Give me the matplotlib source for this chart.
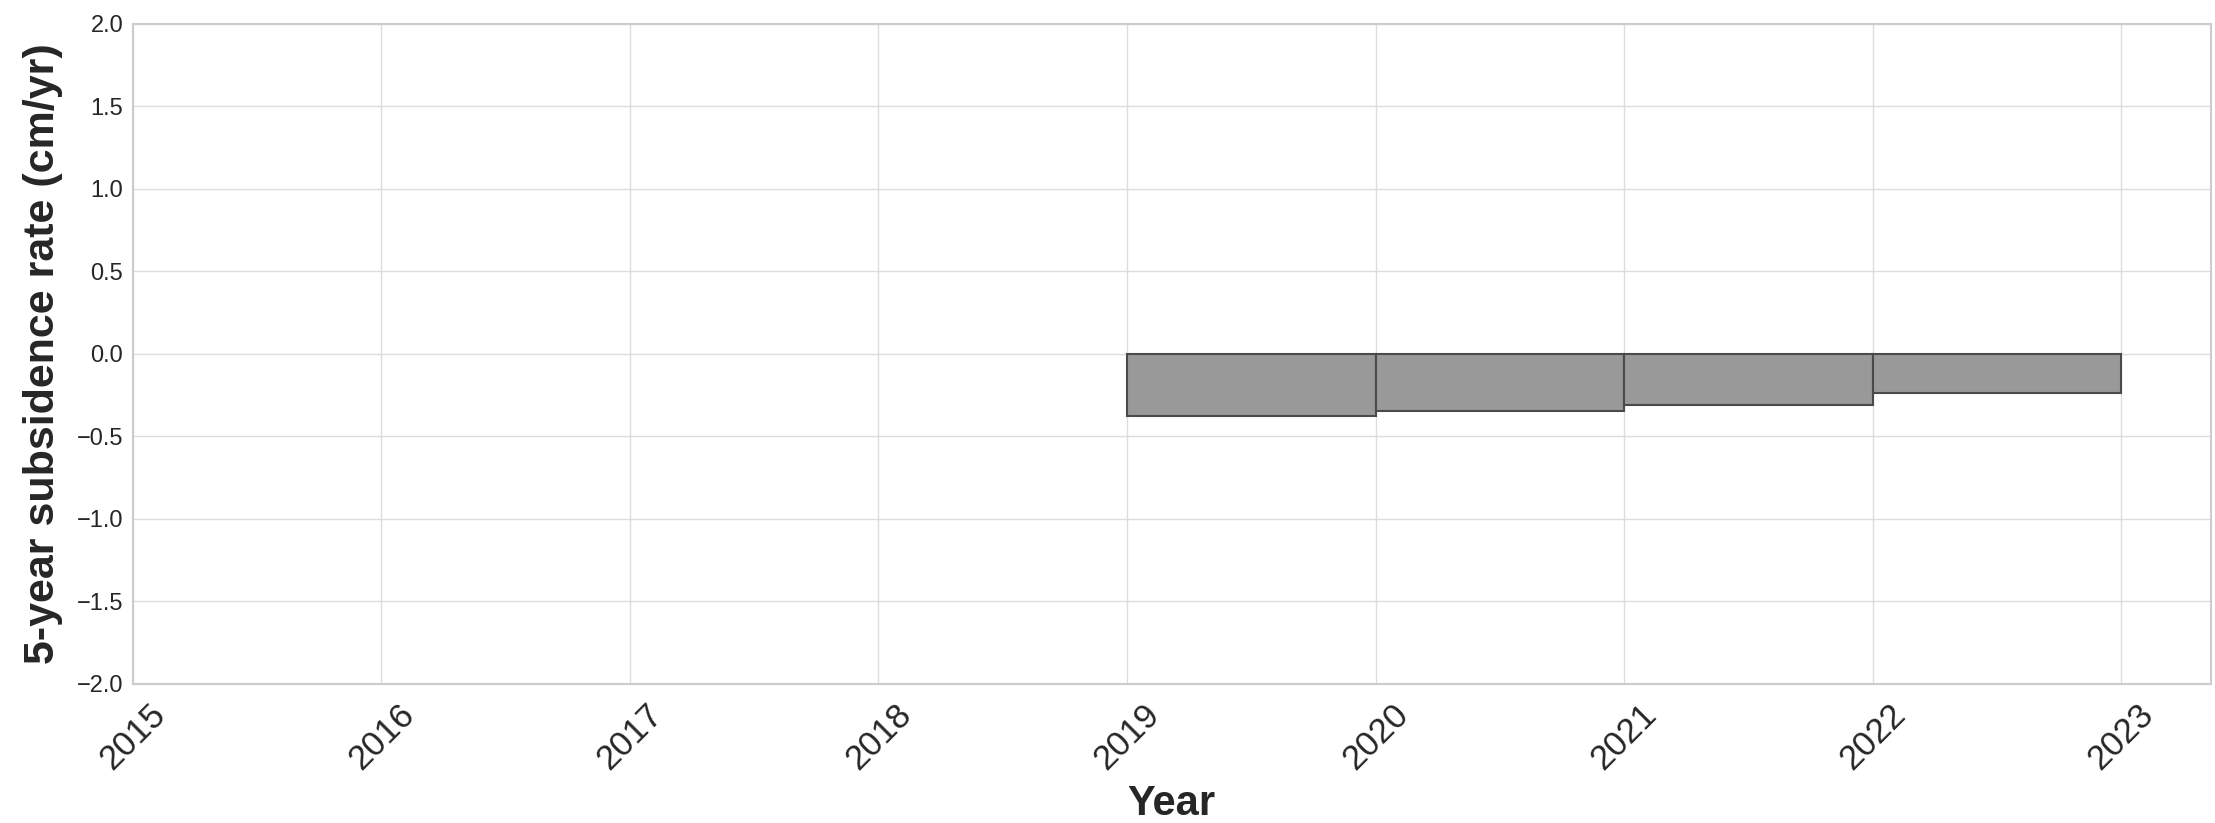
import matplotlib
matplotlib.use("Agg")
import matplotlib.pyplot as plt

# 5-year subsidence rates, one bar per window start year
years = [2019, 2020, 2021, 2022]
rates = [-0.378, -0.344, -0.307, -0.236]
xticks = list(range(2015, 2024))

plt.style.use('seaborn-v0_8-whitegrid')
plt.rcParams['font.family'] = ['Liberation Sans', 'DejaVu Sans']

fig = plt.figure(figsize=(22.15, 8.23), dpi=100)
ax = fig.add_axes([0.06, 0.169, 0.938, 0.802])

ax.bar(years, rates, width=1, align='edge', color='#999999', edgecolor='#4a4a4a', linewidth=1.5)

ax.set_xlim(2015, 2023.36)
ax.set_ylim(-2.0, 2.0)
ax.set_xticks(xticks)
ax.set_yticks([-2.0, -1.5, -1.0, -0.5, 0.0, 0.5, 1.0, 1.5, 2.0])
ax.set_xticklabels([str(x) for x in xticks], rotation=45, fontsize=25, color='#262626')
ax.tick_params(axis='y', labelsize=17, labelcolor='#262626', pad=7)
ax.tick_params(axis='x', pad=10)
ax.grid(True, color='#dddddd', linewidth=1)
for s in ax.spines.values():
    s.set_visible(True)
    s.set_color('#cccccc')
    s.set_linewidth(1.5)

ax.set_xlabel('Year', fontsize=30, fontweight='bold', color='#262626', labelpad=6)
ax.set_ylabel('5-year subsidence rate (cm/yr)', fontsize=31, fontweight='bold', color='#262626', labelpad=10)

fig.savefig('out.png', dpi=100)
